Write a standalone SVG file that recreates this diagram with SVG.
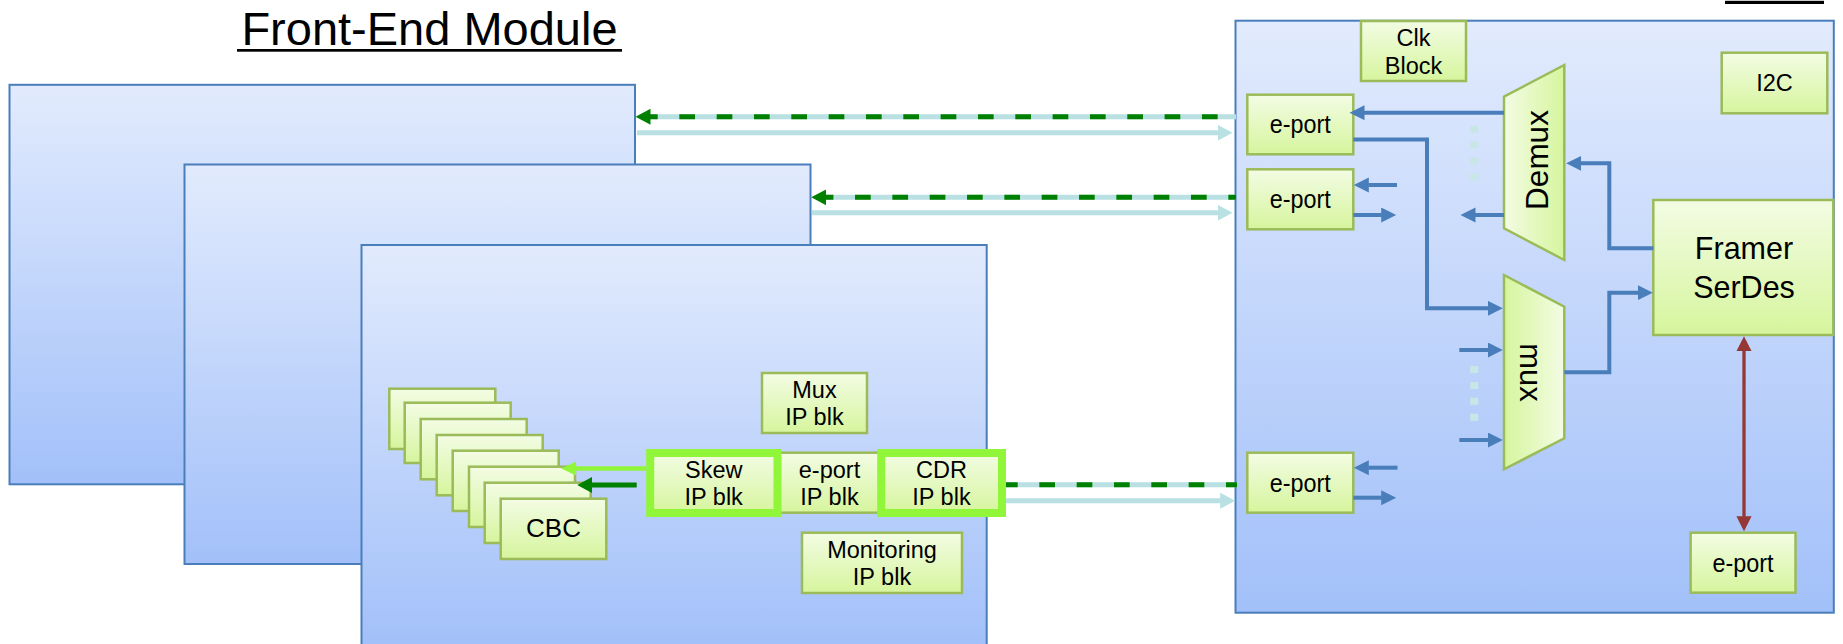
<svg xmlns="http://www.w3.org/2000/svg" width="1843" height="644" viewBox="0 0 1843 644">
  <style>
    .mod { fill: url(#gBlue); stroke: #4a7ebb; stroke-width: 2; }
    .blk { fill: url(#gGreen); stroke: #9bbb59; stroke-width: 2.5; }
    .hl { fill: url(#gGreen); stroke: #91f53a; stroke-width: 8; }
    .t { font-family: "Liberation Sans", Arial, sans-serif; fill: #000; text-anchor: middle; }
    .ep { font-size: 26px; }
    .s23 { font-size: 23.5px; }
    .wire { fill: none; stroke: #4a7ebb; stroke-width: 4; }
    .teal { fill: none; stroke: #b9e0e2; stroke-width: 5; }
    .dash { fill: none; stroke: #008000; stroke-width: 5; stroke-dasharray: 15.7 21.63; }
    .dots { fill: none; stroke: #c6e7e6; stroke-width: 8; stroke-dasharray: 7 8.9; }
  </style>
  <defs>
    <linearGradient id="gBlue" x1="0" y1="0" x2="0" y2="1">
      <stop offset="0" stop-color="#e2ebfd"/>
      <stop offset="1" stop-color="#a2c0f9"/>
    </linearGradient>
    <linearGradient id="gGreen" x1="0" y1="0" x2="0" y2="1">
      <stop offset="0" stop-color="#f3fce4"/>
      <stop offset="1" stop-color="#d6f59d"/>
    </linearGradient>
    <linearGradient id="gDemux" x1="0" y1="0" x2="1" y2="0">
      <stop offset="0" stop-color="#f3fce4"/>
      <stop offset="1" stop-color="#d6f59d"/>
    </linearGradient>
    <linearGradient id="gMux" x1="0" y1="0" x2="1" y2="0">
      <stop offset="0" stop-color="#d6f59d"/>
      <stop offset="1" stop-color="#f3fce4"/>
    </linearGradient>
    <marker id="ahBlue" markerUnits="userSpaceOnUse" markerWidth="16" markerHeight="16" refX="0.5" refY="7.5" orient="auto">
      <path d="M0,0 L15,7.5 L0,15 z" fill="#4a7ebb"/>
    </marker>
    <marker id="ahGreen" markerUnits="userSpaceOnUse" markerWidth="16" markerHeight="17" refX="0.5" refY="8" orient="auto">
      <path d="M0,0 L15,8 L0,16 z" fill="#008000"/>
    </marker>
    <marker id="ahTeal" markerUnits="userSpaceOnUse" markerWidth="16" markerHeight="17" refX="0.5" refY="8" orient="auto">
      <path d="M0,0 L15,8 L0,16 z" fill="#b9e0e2"/>
    </marker>
    <marker id="ahLime" markerUnits="userSpaceOnUse" markerWidth="16" markerHeight="15" refX="0.5" refY="7" orient="auto">
      <path d="M0,0 L15,7 L0,14 z" fill="#91f53a"/>
    </marker>
    <marker id="ahRed" markerUnits="userSpaceOnUse" markerWidth="16" markerHeight="16" refX="0.5" refY="7.6" orient="auto-start-reverse">
      <path d="M0,0 L15,7.6 L0,15.2 z" fill="#953735"/>
    </marker>
  </defs>

  <!-- title -->
  <g id="title">
    <text class="t" x="429.5" y="45" style="font-size:47px">Front-End Module</text>
    <rect x="237" y="49" width="385" height="2.7" fill="#000"/>
  </g>
  <rect id="title-rule-right" x="1725" y="0.8" width="99" height="3.2" fill="#000"/>

  <!-- stacked front-end modules -->
  <g id="fe-module-1"><rect class="mod" x="9.5" y="84.8" width="625.5" height="399.5"/></g>
  <g id="fe-module-2"><rect class="mod" x="184.5" y="164.5" width="626" height="399.5"/></g>
  <g id="fe-module-3"><rect class="mod" x="361.5" y="245" width="625.2" height="400"/></g>

  <!-- CBC chip stack -->
  <g id="cbc-stack">
    <rect class="blk" x="389.3" y="388.7" width="106" height="60.3"/>
    <rect class="blk" x="404.7" y="402.7" width="106" height="60.3"/>
    <rect class="blk" x="420.7" y="419" width="106" height="60.3"/>
    <rect class="blk" x="436.7" y="435" width="106" height="60.3"/>
    <rect class="blk" x="452.7" y="450.7" width="106" height="60.3"/>
    <rect class="blk" x="469" y="466.7" width="106" height="60.3"/>
    <rect class="blk" x="484.7" y="482.7" width="106" height="60.3"/>
    <rect class="blk" x="500.7" y="498.7" width="105.6" height="60.3"/>
    <text class="t" x="553.5" y="537" style="font-size:26px">CBC</text>
  </g>

  <g id="mux-ip">
    <rect class="blk" x="762" y="373" width="105" height="60"/>
    <text class="t s23"><tspan x="814.5" y="397.5">Mux</tspan><tspan x="814.5" y="425">IP blk</tspan></text>
  </g>
  <g id="eport-ip">
    <rect class="blk" x="777" y="452.7" width="104" height="60"/>
    <text class="t s23"><tspan x="829.5" y="477.7">e-port</tspan><tspan x="829.5" y="505">IP blk</tspan></text>
  </g>
  <g id="skew-ip">
    <rect class="hl" x="650.2" y="453" width="127.3" height="60"/>
    <text class="t s23"><tspan x="713.7" y="477.7">Skew</tspan><tspan x="713.7" y="505">IP blk</tspan></text>
  </g>
  <g id="cdr-ip">
    <rect class="hl" x="881.2" y="453" width="120.8" height="60"/>
    <text class="t s23"><tspan x="941.5" y="477.7">CDR</tspan><tspan x="941.5" y="505">IP blk</tspan></text>
  </g>
  <g id="monitoring-ip">
    <rect class="blk" x="802" y="532.7" width="160" height="60.3"/>
    <text class="t s23"><tspan x="882" y="558.3">Monitoring</tspan><tspan x="882" y="585.3">IP blk</tspan></text>
  </g>

  <!-- back-end concentrator -->
  <g id="concentrator"><rect class="mod" x="1235.5" y="20.7" width="598.3" height="592"/></g>
  <g id="clk-block">
    <rect class="blk" x="1361" y="21" width="105" height="60"/>
    <text class="t s23"><tspan x="1413.5" y="46">Clk</tspan><tspan x="1413.5" y="73.5">Block</tspan></text>
  </g>
  <g id="i2c">
    <rect class="blk" x="1721.7" y="52.7" width="105.6" height="60.6"/>
    <text class="t s23" x="1774.5" y="91">I2C</text>
  </g>
  <g id="eport-1">
    <rect class="blk" x="1247.3" y="94.7" width="106" height="59.6"/>
    <text class="t ep" x="1300.3" y="133.3" textLength="61" lengthAdjust="spacingAndGlyphs">e-port</text>
  </g>
  <g id="eport-2">
    <rect class="blk" x="1247.3" y="169.3" width="106" height="60"/>
    <text class="t ep" x="1300.3" y="208.3" textLength="61" lengthAdjust="spacingAndGlyphs">e-port</text>
  </g>
  <g id="eport-3">
    <rect class="blk" x="1247.3" y="452.7" width="106" height="60"/>
    <text class="t ep" x="1300.3" y="491.5" textLength="61" lengthAdjust="spacingAndGlyphs">e-port</text>
  </g>
  <g id="eport-4">
    <rect class="blk" x="1690.6" y="532.7" width="104.9" height="60"/>
    <text class="t ep" x="1743" y="571.5" textLength="61" lengthAdjust="spacingAndGlyphs">e-port</text>
  </g>
  <g id="demux">
    <polygon points="1504,96.7 1564.3,65 1564.3,260 1504,228.3" fill="url(#gDemux)" stroke="#9bbb59" stroke-width="2.5"/>
    <text class="t" transform="translate(1548.3,160) rotate(-90)" style="font-size:31.5px">Demux</text>
  </g>
  <g id="mux">
    <polygon points="1504,275 1564.3,306.7 1564.3,438.3 1504,469.3" fill="url(#gMux)" stroke="#9bbb59" stroke-width="2.5"/>
    <text class="t" transform="translate(1520,372.5) rotate(90)" style="font-size:31px">mux</text>
  </g>
  <g id="framer-serdes">
    <rect class="blk" x="1653.3" y="200" width="180" height="135"/>
    <text class="t" style="font-size:30.5px"><tspan x="1744" y="259.3">Framer</tspan><tspan x="1744" y="297.7">SerDes</tspan></text>
  </g>

  <!-- connectors -->
  <g id="connectors">
    <!-- module links: downlink (dashed, green) and uplink (teal) -->
    <path class="teal" d="M1236,116.7 H650" marker-end="url(#ahGreen)"/>
    <path class="dash" d="M650,116.7 H1236" stroke-dashoffset="8"/>
    <path class="teal" d="M637,132.7 H1218" marker-end="url(#ahTeal)"/>

    <path class="teal" d="M1236,197.3 H825.7" marker-end="url(#ahGreen)"/>
    <path class="dash" d="M825.7,197.3 H1236" stroke-dashoffset="8"/>
    <path class="teal" d="M812,212.7 H1218" marker-end="url(#ahTeal)"/>

    <path class="teal" d="M1006,484.7 H1237"/>
    <path class="dash" d="M1006,484.7 H1237" stroke-dashoffset="4"/>
    <path class="teal" d="M1006,500.7 H1220.7" marker-end="url(#ahTeal)"/>

    <!-- skew block to CBC chips -->
    <path d="M646,468.5 H575.7" fill="none" stroke="#91f53a" stroke-width="4.5" marker-end="url(#ahLime)"/>
    <path d="M636.7,485 H591.7" fill="none" stroke="#008000" stroke-width="5" marker-end="url(#ahGreen)"/>

    <!-- concentrator internals -->
    <path class="wire" d="M1504,112.7 H1364" marker-end="url(#ahBlue)"/>
    <path class="wire" d="M1353.3,139.5 H1427 V308.3 H1488.3" marker-end="url(#ahBlue)"/>
    <path class="wire" d="M1397,185 H1368.3" marker-end="url(#ahBlue)"/>
    <path class="wire" d="M1353.3,215 H1381.7" marker-end="url(#ahBlue)"/>
    <path class="wire" d="M1504,215 H1475" marker-end="url(#ahBlue)"/>
    <path class="wire" d="M1653.3,248.3 H1609.3 V163.3 H1580.7" marker-end="url(#ahBlue)"/>
    <path class="wire" d="M1564.3,372.3 H1609.3 V292.7 H1638.3" marker-end="url(#ahBlue)"/>
    <path class="wire" d="M1459.3,350 H1488.3" marker-end="url(#ahBlue)"/>
    <path class="wire" d="M1459.3,440 H1488.3" marker-end="url(#ahBlue)"/>
    <path class="wire" d="M1397.5,467.7 H1368.3" marker-end="url(#ahBlue)"/>
    <path class="wire" d="M1353.3,497.7 H1381.7" marker-end="url(#ahBlue)"/>
    <path class="dots" d="M1474.3,125.7 V181"/>
    <path class="dots" d="M1474.3,366 V421"/>
    <path d="M1744,350.7 V516.7" fill="none" stroke="#953735" stroke-width="3.3" marker-start="url(#ahRed)" marker-end="url(#ahRed)"/>
  </g>
</svg>
